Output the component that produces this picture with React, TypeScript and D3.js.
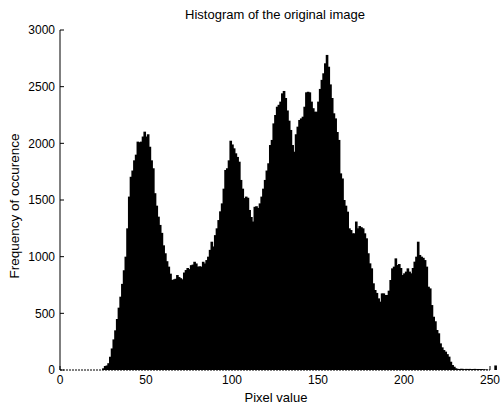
import * as d3 from 'd3'

// histogram counts, index = pixel value (0..252)
const leadingZeros = new Array(25).fill(0)
const counts = [
  ...leadingZeros,
  15, 35, 40, 60, 117, 190, 270, 350, 450, 550, // 25-34
  647, 760, 880, 1000, 1250, 1530, 1705, 1760, 1850, 1900, // 35-44
  2015, 2010, 2015, 2060, 2103, 2060, 2080, 1970, 1850, 1780, // 45-54
  1560, 1450, 1353, 1280, 1210, 1100, 1030, 960, 912, 850, // 55-64
  794, 800, 805, 838, 820, 810, 800, 860, 882, 900, // 65-74
  890, 925, 930, 955, 940, 912, 915, 912, 955, 940, // 75-84
  970, 1000, 1060, 1132, 1090, 1190, 1250, 1323, 1400, 1470, // 85-94
  1600, 1765, 1780, 1850, 2023, 1990, 1956, 1912, 1880, 1838, // 95-104
  1677, 1600, 1517, 1530, 1520, 1412, 1350, 1310, 1440, 1445, // 105-114
  1430, 1470, 1530, 1600, 1677, 1760, 1824, 1985, 2030, 2176, // 115-124
  2250, 2323, 2340, 2368, 2441, 2462, 2400, 2290, 2200, 2118, // 125-134
  1985, 1926, 2080, 2147, 2206, 2220, 2235, 2323, 2450, 2455, // 135-144
  2450, 2368, 2310, 2279, 2279, 2368, 2480, 2560, 2618, 2706, // 145-154
  2780, 2676, 2520, 2400, 2265, 2220, 2100, 2030, 1735, 1690, // 155-164
  1500, 1450, 1397, 1250, 1235, 1206, 1206, 1310, 1250, 1270, // 165-174
  1260, 1250, 1206, 1162, 1030, 941, 897, 765, 706, 680, // 175-184
  632, 603, 676, 676, 662, 662, 700, 794, 897, 912, // 185-194
  985, 926, 935, 900, 838, 853, 868, 897, 868, 853, // 195-204
  900, 956, 1000, 1132, 1015, 1000, 990, 970, 912, 735, // 205-214
  720, 573, 470, 430, 353, 324, 235, 200, 176, 162, // 215-224
  140, 118, 73, 44, 29, 15, 10, 9, 11, 10, // 225-234
  8, 10, 9, 10, 8, 9, 10, 8, 9, 8, // 235-244
  8, 6, 5, 4, 0, 0, 0, 0, 40 // 245-252
]

const xTicks = [0, 50, 100, 150, 200, 250]
const yTicks = [0, 500, 1000, 1500, 2000, 2500, 3000]

const title = 'Histogram of the original image'
const xLabel = 'Pixel value'
const yLabel = 'Frequency of occurence'

export default function App() {
  const width = 504
  const height = 408
  const left = 60
  const right = 490
  const top = 30
  const bottom = 370

  const x = d3.scaleLinear().domain([0, 250]).range([left, right])
  const y = d3.scaleLinear().domain([0, 3000]).range([bottom, top])
  const bw = x(1) - x(0)

  const font = 'Arial, "Liberation Sans", Helvetica, sans-serif'

  return (
    <svg width={width} height={height} style={{ position: 'absolute', left: 0, top: 0, background: '#fff' }}>
      <g>
        {counts.map((c, i) => c > 0 ? (
          <rect key={i} x={x(i) - bw / 2} y={y(c)} width={bw + 0.9} height={bottom - y(c)} fill="#000" />
        ) : null)}
      </g>
      {/* axes */}
      <line x1={left} x2={left} y1={top} y2={bottom} stroke="#000" strokeWidth={1} />
      <line x1={left} x2={right} y1={bottom} y2={bottom} stroke="#000" strokeWidth={1} strokeDasharray="2,1" />
      {yTicks.map(t => (
        <g key={'y' + t}>
          <line x1={left} x2={left + 4} y1={y(t)} y2={y(t)} stroke="#000" />
          <text x={left - 5} y={y(t)} dy="0.35em" textAnchor="end" fontSize={12} fontFamily={font}>{t}</text>
        </g>
      ))}
      {xTicks.map(t => (
        <g key={'x' + t}>
          <line x1={x(t)} x2={x(t)} y1={bottom} y2={bottom - 4} stroke="#000" />
          <text x={x(t)} y={bottom + 14} textAnchor="middle" fontSize={12} fontFamily={font}>{t}</text>
        </g>
      ))}
      <text x={275} y={19} textAnchor="middle" fontSize={13} fontFamily={font}>{title}</text>
      <text x={276} y={402} textAnchor="middle" fontSize={13} fontFamily={font}>{xLabel}</text>
      <text transform={`translate(19, 206) rotate(-90)`} textAnchor="middle" fontSize={13.5} fontFamily={font}>{yLabel}</text>
    </svg>
  )
}
